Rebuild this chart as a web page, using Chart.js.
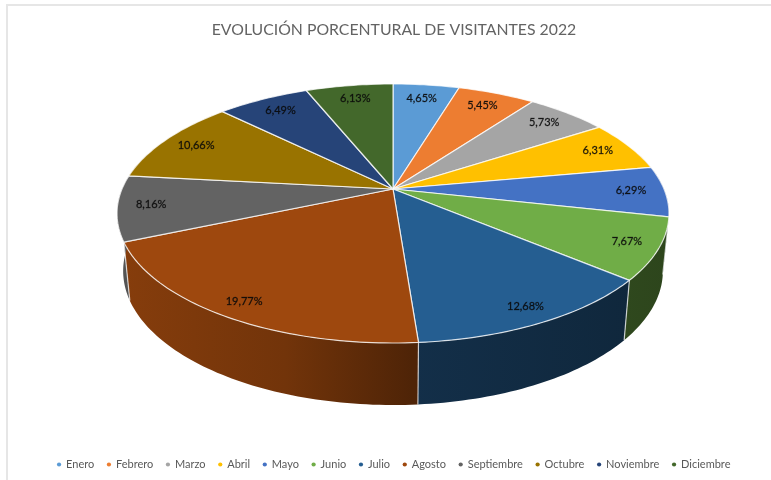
<!DOCTYPE html>
<html><head><meta charset="utf-8">
<style>
html,body{margin:0;padding:0;background:#fff;overflow:hidden}
#wrap{position:absolute;left:0;top:0;width:771px;height:480px;filter:blur(0.7px)}
#frame{position:absolute;left:6px;top:4px;width:790px;height:500px;border:2px solid #e6e6e6}
canvas{position:absolute;left:0;top:0}
</style>
<script src="https://cdn.jsdelivr.net/npm/chart.js@4"></script>
</head><body>
<div id="wrap"><div id="frame"></div><canvas id="c" width="771" height="480"></canvas></div>
<script>
const chartTitle = 'EVOLUCIÓN PORCENTURAL DE VISITANTES 2022';
const months = ['Enero','Febrero','Marzo','Abril','Mayo','Junio','Julio','Agosto','Septiembre','Octubre','Noviembre','Diciembre'];
const shares = [4.65,5.45,5.73,6.31,6.29,7.67,12.68,19.77,8.16,10.66,6.49,6.13];
const sliceColors = ['#5b9bd5','#ed7d31','#a5a5a5','#ffc000','#4472c4','#70ad47','#255e91','#9e480e','#636363','#997300','#264478','#43682b'];

// perspective view of the pie disc
const CX = 393, CY = 189, P = 0.189;
const TOP_A = 124.9, TOP_B = 271;
const BASE_CY = 245.7, BASE_A = 129.2, BASE_B = 265;
const project = (a, r, cy, A, B) => {
  const w = 1 - P * r * Math.sin(a);
  return [CX + B * r * Math.cos(a) / w, cy + A * r * Math.sin(a) / w];
};
const topPt = (a, r = 1) => project(a, r, CY, TOP_A, TOP_B);
const basePt = a => project(a, 1, BASE_CY, BASE_A, BASE_B);
const arcSteps = (s, e) => {
  const n = Math.max(2, Math.ceil((e - s) / 0.02)), out = [];
  for (let i = 0; i <= n; i++) out.push(s + (e - s) * i / n);
  return out;
};
const shade = (hex, f) => {
  const n = parseInt(hex.slice(1), 16);
  return `rgb(${Math.round((n >> 16 & 255) * f)},${Math.round((n >> 8 & 255) * f)},${Math.round((n & 255) * f)})`;
};

Chart.ArcElement.prototype.draw = function (ctx) {
  const { startAngle, endAngle } = this.getProps(['startAngle', 'endAngle']);
  ctx.save();
  ctx.beginPath();
  ctx.moveTo(CX, CY);
  arcSteps(startAngle, endAngle).forEach(a => ctx.lineTo(...topPt(a)));
  ctx.closePath();
  ctx.fillStyle = this.options.backgroundColor;
  ctx.fill();
  ctx.lineWidth = 1.2;
  ctx.lineJoin = 'round';
  ctx.strokeStyle = 'rgba(255,255,255,0.78)';
  ctx.stroke();
  ctx.restore();
};

const walls = {
  id: 'walls',
  beforeDatasetsDraw(chart) {
    const { ctx } = chart;
    chart.getDatasetMeta(0).data.forEach((arc, i) => {
      // only the part of the rim that faces the viewer
      const a0 = Math.max(arc.startAngle, -0.3), a1 = Math.min(arc.endAngle, Math.PI + 0.3);
      if (a1 <= a0) return;
      const steps = arcSteps(a0, a1);
      ctx.beginPath();
      steps.forEach(a => ctx.lineTo(...topPt(a)));
      steps.slice().reverse().forEach(a => ctx.lineTo(...basePt(a)));
      ctx.closePath();
      const g = ctx.createLinearGradient(120, 0, 670, 0);
      const c = sliceColors[i];
      g.addColorStop(0, shade(c, 0.85));
      g.addColorStop(0.3, shade(c, 0.72));
      g.addColorStop(0.53, shade(c, 0.5));
      g.addColorStop(1, shade(c, 0.4));
      ctx.fillStyle = g;
      ctx.fill();
      if (a0 === arc.startAngle) {
        ctx.lineWidth = 1.2;
        ctx.strokeStyle = 'rgba(255,255,255,0.7)';
        ctx.beginPath();
        ctx.moveTo(...topPt(a0));
        ctx.lineTo(...basePt(a0));
        ctx.stroke();
      }
    });
  }
};

const sliceLabels = {
  id: 'sliceLabels',
  afterDatasetsDraw(chart) {
    const { ctx } = chart;
    chart.getDatasetMeta(0).data.forEach((arc, i) => {
      const mid = (arc.startAngle + arc.endAngle) / 2;
      const r = 0.875 + 0.035 * Math.sin(mid);
      const [x, y] = topPt(mid, r);
      const text = shares[i].toFixed(2).replace('.', ',') + '%';
      ctx.save();
      ctx.font = '11px Lato';
      ctx.textAlign = 'center';
      ctx.textBaseline = 'middle';
      ctx.fillStyle = 'rgba(10,10,10,0.9)';
      ctx.strokeStyle = 'rgba(10,10,10,0.55)';
      ctx.lineWidth = 0.4;
      ctx.fillText(text, x, y - 1);
      ctx.strokeText(text, x, y - 1);
      ctx.restore();
    });
  }
};

new Chart(document.getElementById('c'), {
  type: 'pie',
  data: { labels: months, datasets: [{ data: shares, backgroundColor: sliceColors, borderWidth: 0 }] },
  plugins: [walls, sliceLabels],
  options: {
    responsive: false,
    animation: false,
    layout: { padding: { left: 17, bottom: 0 } },
    plugins: {
      tooltip: { enabled: false },
      title: {
        display: true, text: chartTitle, color: '#636363',
        font: { family: 'Lato', size: 15.8, weight: 'normal' },
        padding: { top: 20.5, bottom: 10 }
      },
      legend: {
        position: 'bottom',
        labels: {
          usePointStyle: true, pointStyle: 'circle', boxWidth: 3, boxHeight: 3,
          color: '#595959', padding: 13.2,
          font: { family: 'Lato', size: 11 }
        }
      }
    }
  }
});
</script>
</body></html>
